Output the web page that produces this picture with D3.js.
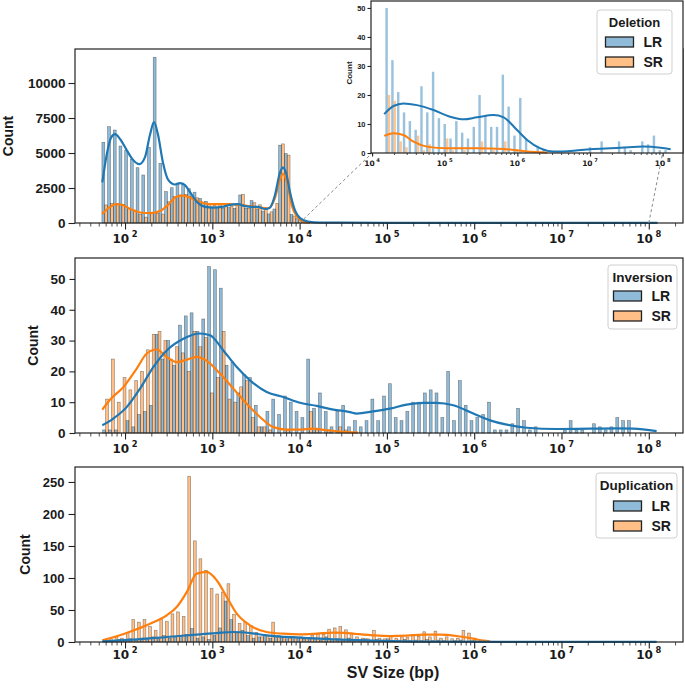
<!DOCTYPE html>
<html>
<head>
<meta charset="utf-8">
<script src="https://cdn.jsdelivr.net/npm/d3@7"></script>
<style>
  body { margin: 0; background: #fff; }
  svg text { font-family: "Liberation Sans", Arial, sans-serif; font-weight: bold; fill: #1a1a1a; }
  svg text.exp { font-family: "DejaVu Sans", sans-serif; }
</style>
</head>
<body>
<svg id="chart" width="685" height="688"></svg>
<script>
// ---- data: histogram counts per log10 bin (bin start + width in log10 units) ----
// Deletion, main panel
const delStart = 1.7354, delWidth = 0.0653;
const delLR = [5760, 6880, 6640, 5500, 5200, 4550, 3950, 3430, 5400, 11840,
  4260, 2240, 2520, 2850, 2750, 2450, 2200, 1750, 1550, 1150,
  1100, 1050, 1100, 1050, 2000, 1050, 1600, 1000, 850, 650,
  1000, 5560, 4960, 620, 320, 100];
const delSR = [1290, 1400, 1400, 1330, 1050, 920, 600, 420, 680, 700,
  640, 1520, 1880, 2000, 2050, 1900, 1800, 1500, 1350, 1250,
  1300, 1250, 1200, 1300, 2050, 1050, 1450, 1300, 950, 800,
  1400, 5650, 4850, 500, 250, 80];

// Deletion, inset (> 10^4)
const insStart = 4.183, insWidth = 0.08;
const insLR = [50, 32, 21, 14, 11, 8, 23, 14, 28, 12,
  10, 5, 11, 7, 5, 9, 20, 13, 9, 9,
  27, 16, 6, 19, 5, 0, 2, 1, 0, 0,
  0, 0, 0, 0, 0, 2, 0, 4, 0, 0,
  4, 2, 1, 0, 4, 3, 6, 1, 1];
const insSR = [20, 18, 4, 2, 0, 6, 1, 3, 0, 0,
  5, 1, 0, 1, 0, 0, 4, 0, 1, 0,
  4, 0, 1, 0, 0, 0, 0, 0, 0, 0,
  0, 0, 0, 0, 0, 0, 0, 0, 0, 0,
  0, 0, 0, 0, 0, 0, 0, 0, 0];

// Inversion
const invStart = 1.744, invWidth = 0.0668;
const invLR = [1, 1, 1, 0, 4, 2, 6, 7, 9, 32,
  24, 30, 22, 35, 38, 39, 33, 37, 54, 53,
  47, 22, 23, 13, 19, 18, 9, 2, 7, 11,
  6, 12, 10, 7, 5, 24, 8, 13, 7, 2,
  7, 9, 2, 4, 2, 4, 11, 4, 12, 16,
  5, 4, 7, 10, 10, 13, 14, 13, 5, 20,
  4, 17, 9, 4, 5, 6, 10, 1, 1, 1,
  3, 8, 4, 1, 2, 0, 0, 0, 0, 1,
  4, 1, 1, 0, 3, 2, 1, 2, 5, 4,
  4, 0, 0, 0, 0];
const invSR = [11, 24, 10, 18, 14, 17, 20, 27, 32, 33,
  30, 24, 28, 26, 20, 33, 28, 31, 13, 18,
  33, 11, 10, 15, 17, 5, 2, 2, 1, 0,
  0, 1, 0, 0, 0, 7, 1, 0, 1, 0,
  2, 1, 0, 0, 0, 0, 0, 0, 0, 0,
  0, 0, 0, 0, 0, 0, 0, 0, 0, 0,
  0, 0, 0, 0, 0, 0, 0, 0, 0, 0,
  0, 0, 0, 0, 0, 0, 0, 0, 0, 0,
  0, 0, 0, 0, 0, 0, 0, 0, 0, 0,
  0, 0, 0, 0, 0];

// Duplication
const dupStart = 1.726, dupWidth = 0.0641;
const dupLR = [0, 1, 2, 4, 3, 5, 3, 6, 4, 8,
  5, 10, 6, 8, 9, 12, 21, 6, 8, 4,
  10, 22, 64, 35, 13, 18, 10, 6, 8, 12,
  6, 9, 7, 5, 8, 6, 4, 7, 5, 3,
  8, 4, 5, 3, 6, 4, 3, 5, 2, 4,
  3, 5, 2, 3, 4, 2, 3, 2, 4, 2,
  3, 2, 1, 2, 3, 1, 2, 1, 0, 0,
  0, 1, 0, 0, 0, 0, 0, 0, 0, 0,
  0, 0, 0, 0, 0, 0, 1, 0, 0, 0,
  0, 0, 1, 0, 0, 0, 1, 0, 0];
const dupSR = [3, 5, 8, 6, 15, 35, 31, 35, 24, 18,
  35, 32, 44, 47, 40, 259, 158, 130, 112, 84,
  75, 78, 91, 43, 29, 31, 26, 15, 8, 10,
  31, 10, 8, 6, 5, 8, 6, 10, 12, 12,
  20, 22, 24, 19, 14, 8, 6, 5, 18, 6,
  5, 10, 6, 8, 7, 10, 9, 16, 8, 17,
  6, 8, 5, 6, 18, 14, 3, 0, 0, 0,
  0, 0, 0, 0, 0, 0, 0, 0, 0, 0,
  0, 0, 0, 0, 0, 0, 0, 0, 0, 0,
  0, 0, 0, 0, 0, 0, 0, 0, 0];

// ---- KDE curves: [log10(size), count] ----
const delKdeLR = [[1.740, 2900], [1.794, 5000], [1.840, 6100], [1.885, 6350], [1.943, 6000], [2.011, 5300],
  [2.080, 4600], [2.164, 4200], [2.229, 4700], [2.286, 6300], [2.332, 7200], [2.378, 6300], [2.435, 4300],
  [2.493, 3100], [2.573, 2750], [2.630, 2850], [2.687, 2700], [2.745, 2200], [2.825, 1500], [2.916, 1150],
  [3.008, 1100], [3.111, 1150], [3.203, 1300], [3.294, 1350], [3.375, 1200], [3.455, 1150], [3.523, 1150],
  [3.604, 1000], [3.661, 1100], [3.718, 2000], [3.775, 3600], [3.810, 3950], [3.844, 3600], [3.890, 2200],
  [3.947, 900], [4.005, 350], [4.096, 100], [4.230, 30], [5.0, 15], [6.0, 15], [7.0, 10], [8.1, 10]];
const delKdeSR = [[1.740, 650], [1.828, 1150], [1.897, 1350], [1.966, 1300], [2.057, 1000], [2.172, 750],
  [2.286, 700], [2.401, 850], [2.493, 1300], [2.584, 1850], [2.664, 1950], [2.745, 1800], [2.859, 1500],
  [2.974, 1350], [3.088, 1350], [3.203, 1350], [3.317, 1300], [3.432, 1200], [3.546, 1100], [3.638, 1050],
  [3.718, 1800], [3.775, 3100], [3.810, 3500], [3.856, 2900], [3.913, 1200], [3.970, 450], [4.039, 100], [4.119, 10]];
const insKdeLR = [[4.166, 13.4], [4.294, 16.2], [4.432, 17.1], [4.617, 16.5], [4.846, 14.8], [5.076, 12.5],
  [5.259, 11.6], [5.444, 12.3], [5.673, 13.1], [5.811, 12.3], [5.996, 7.9], [6.134, 4.5], [6.317, 1.6],
  [6.501, 0.5], [6.777, 0.8], [7.052, 1.4], [7.421, 1.8], [7.742, 2.2], [7.972, 1.8], [8.110, 1.3]];
const insKdeSR = [[4.166, 5.9], [4.294, 6.8], [4.432, 6.2], [4.570, 3.9], [4.754, 2.2], [5.030, 1.6],
  [5.444, 1.6], [5.811, 1.4], [6.134, 0.5], [6.410, 0.1]];
const invKdeLR = [[1.740, 2.5], [1.866, 4.7], [2.019, 8.4], [2.172, 14.4], [2.324, 21.4], [2.478, 26.8],
  [2.668, 30.6], [2.859, 32.3], [2.974, 31.7], [3.126, 26.8], [3.280, 21.4], [3.432, 17.1], [3.623, 13.3],
  [3.813, 11.7], [4.005, 9.8], [4.196, 8.8], [4.386, 7.6], [4.577, 6.8], [4.654, 6.3], [4.844, 7.0],
  [5.035, 7.9], [5.227, 9.2], [5.417, 9.8], [5.571, 9.8], [5.761, 9.0], [5.990, 6.3], [6.181, 4.1],
  [6.372, 2.7], [6.601, 1.7], [6.945, 1.3], [7.326, 1.4], [7.632, 1.5], [7.822, 1.4], [8.090, 0.6]];
const invKdeSR = [[1.740, 7.6], [1.828, 10.8], [1.981, 14.9], [2.134, 20.9], [2.249, 25.8], [2.363, 27.1],
  [2.478, 24.7], [2.592, 23.0], [2.707, 23.8], [2.821, 24.7], [2.936, 23.4], [3.088, 19.3], [3.241, 14.4],
  [3.394, 9.5], [3.546, 5.2], [3.699, 1.9], [3.852, 1.1], [4.005, 1.1], [4.157, 1.4], [4.310, 0.9],
  [4.540, 0.3], [4.669, 0.1]];
const dupKdeLR = [[1.740, 1], [2.095, 3.6], [2.478, 7.8], [2.859, 12], [3.050, 14], [3.241, 15.6],
  [3.432, 14], [3.623, 10.4], [4.005, 6.8], [4.386, 4.2], [4.844, 2], [5.227, 1], [5.608, 0.5],
  [6.372, 0.2], [7.899, 0.2], [8.090, 0.2]];
const dupKdeSR = [[1.740, 2.6], [1.905, 8.9], [2.095, 18], [2.286, 28.6], [2.478, 41.7], [2.592, 54.7],
  [2.707, 78], [2.821, 106.8], [2.936, 109.4], [3.050, 96.4], [3.165, 70.3], [3.280, 44.3], [3.432, 26],
  [3.623, 15.6], [3.813, 13], [4.005, 12], [4.196, 13], [4.386, 14.6], [4.520, 14.2], [4.654, 12.5],
  [4.844, 10.4], [5.035, 9.3], [5.227, 9.9], [5.417, 11.5], [5.608, 11.5], [5.800, 9.4], [5.990, 5.2],
  [6.105, 2.1], [6.181, 1]];

// ---- tick labels ----
const mainExps = [2, 3, 4, 5, 6, 7, 8];
const insetExps = [4, 5, 6, 7, 8];
const delTicks = [0, 2500, 5000, 7500, 10000];
const invTicks = [0, 10, 20, 30, 40, 50];
const dupTicks = [0, 50, 100, 150, 200, 250];
const insTicks = [0, 10, 20, 30, 40, 50];

const BLUE = '#1f77b4', ORANGE = '#ff7f0e';
const svg = d3.select('#chart');
const L = 75, R = 683;

const x = d3.scaleLog().domain([10 ** 1.427, 10 ** 8.392]).range([L, R]);

function minorTicks(scale) {
  const [a, b] = scale.domain();
  const out = [];
  for (let e = 0; e <= 9; e++) {
    for (let m = 2; m <= 9; m++) {
      const v = m * 10 ** e;
      if (v >= a && v <= b) out.push(v);
    }
  }
  return out;
}

function xAxis(g, xs, y0, exps, o) {
  g.append('g').attr('transform', `translate(0,${y0})`)
    .call(d3.axisBottom(xs).tickValues(minorTicks(xs)).tickSize(o.minor).tickFormat(''))
    .call(a => a.select('.domain').remove())
    .call(a => a.selectAll('line').attr('stroke', '#222').attr('stroke-width', 0.8));
  g.append('g').attr('transform', `translate(0,${y0})`)
    .call(d3.axisBottom(xs).tickValues(exps.map(e => 10 ** e)).tickSize(o.major).tickFormat(''))
    .call(a => a.select('.domain').remove())
    .call(a => a.selectAll('line').attr('stroke', '#222').attr('stroke-width', 1.1));
  // matplotlib-style 10^n labels
  exps.forEach(e => {
    const t = g.append('text').attr('class', 'exp').attr('x', xs(10 ** e)).attr('y', y0 + o.dy)
      .attr('text-anchor', 'middle').style('font-size', o.size + 'px');
    t.append('tspan').text('10');
    t.append('tspan').attr('dx', o.size * 0.22).attr('dy', -o.size * 0.5)
      .style('font-size', (o.size * 0.7) + 'px').text(e);
  });
}

function yAxis(g, ys, x0, ticks, o) {
  g.append('g').attr('transform', `translate(${x0},0)`)
    .call(d3.axisLeft(ys).tickValues(ticks).tickSize(o.tick).tickPadding(o.pad).tickFormat(d3.format('d')))
    .call(a => a.select('.domain').remove())
    .call(a => a.selectAll('line').attr('stroke', '#222').attr('stroke-width', 1.1))
    .call(a => a.selectAll('text').style('font-size', o.size + 'px')
      .style('font-family', '"Liberation Sans", Arial, sans-serif').style('font-weight', 'bold').attr('fill', '#1a1a1a'));
}

function bars(g, xs, ys, start, width, lr, sr, o) {
  const data = lr.map((v, i) => ({
    lr: v, sr: sr[i],
    x0: xs(10 ** (start + i * width)), x1: xs(10 ** (start + (i + 1) * width))
  }));
  const f = o.frac;
  const series = [
    { key: 'lr', color: BLUE, a: 0, b: f },
    { key: 'sr', color: ORANGE, a: f, b: 2 * f }
  ];
  series.forEach(s => {
    g.append('g').selectAll('rect')
      .data(data.filter(d => d[s.key] > 0))
      .join('rect')
      .attr('x', d => d.x0 + s.a * (d.x1 - d.x0))
      .attr('width', d => (s.b - s.a) * (d.x1 - d.x0))
      .attr('y', d => ys(d[s.key]))
      .attr('height', d => ys(0) - ys(d[s.key]))
      .attr('fill', s.color).attr('fill-opacity', o.alpha)
      .attr('stroke', o.stroke ? 'rgba(0,0,0,0.45)' : 'none').attr('stroke-width', 0.6);
  });
}

function kde(g, xs, ys, pts, color, w) {
  const line = d3.line().x(d => xs(10 ** d[0])).y(d => ys(d[1])).curve(d3.curveMonotoneX);
  g.append('path').datum(pts).attr('d', line)
    .attr('fill', 'none').attr('stroke', color).attr('stroke-width', w).attr('stroke-linejoin', 'round');
}

function frame(g, x0, y0, x1, y1) {
  g.append('rect').attr('x', x0).attr('y', y0).attr('width', x1 - x0).attr('height', y1 - y0)
    .attr('fill', 'none').attr('stroke', '#222').attr('stroke-width', 1.2);
}

function legend(g, o) {
  g.append('rect').attr('x', o.x).attr('y', o.y).attr('width', o.w).attr('height', o.h)
    .attr('rx', 3).attr('fill', '#fff').attr('fill-opacity', 0.85)
    .attr('stroke', '#cfcfcf').attr('stroke-width', 1);
  g.append('text').attr('x', o.x + o.w / 2).attr('y', o.y + 17).attr('text-anchor', 'middle')
    .style('font-size', o.titleSize + 'px').text(o.title);
  [['LR', BLUE], ['SR', ORANGE]].forEach(([name, c], i) => {
    const yy = o.y + o.row0 + i * 20;
    g.append('rect').attr('x', o.px).attr('y', yy - 5).attr('width', 28).attr('height', 10)
      .attr('fill', c).attr('fill-opacity', 0.5).attr('stroke', '#222').attr('stroke-width', 1.3);
    g.append('text').attr('x', o.px + 38).attr('y', yy + 5).style('font-size', '14px').text(name);
  });
}

function countLabel(g, cx, cy, size) {
  g.append('text').attr('transform', `translate(${cx},${cy}) rotate(-90)`)
    .attr('text-anchor', 'middle').attr('dy', '0.35em').style('font-size', size + 'px').text('Count');
}

// ---------------- Deletion (top) ----------------
{
  const g = svg.append('g');
  const top = 49, bot = 223;
  const y = d3.scaleLinear().domain([0, 12430]).range([bot, top]);
  bars(g, x, y, delStart, delWidth, delLR, delSR, { frac: 0.5, alpha: 0.5, stroke: true });
  kde(g, x, y, delKdeSR, ORANGE, 2.2);
  kde(g, x, y, delKdeLR, BLUE, 2.2);
  frame(g, L, top, R, bot);
  xAxis(g, x, bot, mainExps, { minor: 3.5, major: 6.5, dy: 20, size: 12 });
  yAxis(g, y, L, delTicks, { tick: 6.5, pad: 3, size: 13.5 });
  countLabel(g, 8, (top + bot) / 2, 14);

  // inset zoom of > 10^4
  const xi = d3.scaleLog().domain([10 ** 3.985, 10 ** 8.28]).range([371, R]);
  const itop = 1, ibot = 153;
  const yi = d3.scaleLinear().domain([0, 52.4]).range([ibot, itop]);
  // connector lines
  [1e4, 1e8].forEach(v => {
    g.append('line').attr('x1', x(v)).attr('y1', y(0)).attr('x2', xi(v)).attr('y2', yi(0))
      .attr('stroke', '#8a8a8a').attr('stroke-width', 1).attr('stroke-dasharray', '3,2.5');
  });
  const gi = svg.append('g');
  gi.append('rect').attr('x', 371).attr('y', itop).attr('width', R - 371).attr('height', ibot - itop).attr('fill', '#fff');
  bars(gi, xi, yi, insStart, insWidth, insLR, insSR, { frac: 0.42, alpha: 0.45, stroke: false });
  kde(gi, xi, yi, insKdeSR, ORANGE, 2);
  kde(gi, xi, yi, insKdeLR, BLUE, 2);
  frame(gi, 371, itop, R, ibot);
  xAxis(gi, xi, ibot, insetExps, { minor: 2, major: 3.5, dy: 13, size: 7.5 });
  yAxis(gi, yi, 371, insTicks, { tick: 3.5, pad: 2, size: 7.5 });
  countLabel(gi, 349, (itop + ibot) / 2 - 4, 8);
  legend(gi, { x: 597, y: 10, w: 75, h: 64, title: 'Deletion', titleSize: 13, px: 605.5, row0: 32 });
}

// ---------------- Inversion (middle) ----------------
{
  const g = svg.append('g');
  const top = 258, bot = 433;
  const y = d3.scaleLinear().domain([0, 56.8]).range([bot, top]);
  bars(g, x, y, invStart, invWidth, invLR, invSR, { frac: 0.5, alpha: 0.5, stroke: true });
  kde(g, x, y, invKdeSR, ORANGE, 2.2);
  kde(g, x, y, invKdeLR, BLUE, 2.2);
  frame(g, L, top, R, bot);
  xAxis(g, x, bot, mainExps, { minor: 3.5, major: 6.5, dy: 20, size: 12 });
  yAxis(g, y, L, invTicks, { tick: 5.5, pad: 4, size: 13.5 });
  countLabel(g, 33, (top + bot) / 2, 14);
  legend(g, { x: 608, y: 265, w: 69, h: 64, title: 'Inversion', titleSize: 13.5, px: 613.5, row0: 31 });
}

// ---------------- Duplication (bottom) ----------------
{
  const g = svg.append('g');
  const top = 467, bot = 642;
  const y = d3.scaleLinear().domain([0, 273.4]).range([bot, top]);
  bars(g, x, y, dupStart, dupWidth, dupLR, dupSR, { frac: 0.5, alpha: 0.5, stroke: true });
  kde(g, x, y, dupKdeSR, ORANGE, 2.2);
  kde(g, x, y, dupKdeLR, BLUE, 2.2);
  frame(g, L, top, R, bot);
  xAxis(g, x, bot, mainExps, { minor: 3.5, major: 6.5, dy: 17, size: 12 });
  yAxis(g, y, L, dupTicks, { tick: 6.5, pad: 4, size: 13 });
  countLabel(g, 25, (top + bot) / 2, 14);
  legend(g, { x: 596, y: 473, w: 81, h: 65, title: 'Duplication', titleSize: 13.5, px: 613.5, row0: 33 });

  svg.append('text').attr('x', 393).attr('y', 678).attr('text-anchor', 'middle')
    .style('font-size', '16px').text('SV Size (bp)');
}
</script>
</body>
</html>
